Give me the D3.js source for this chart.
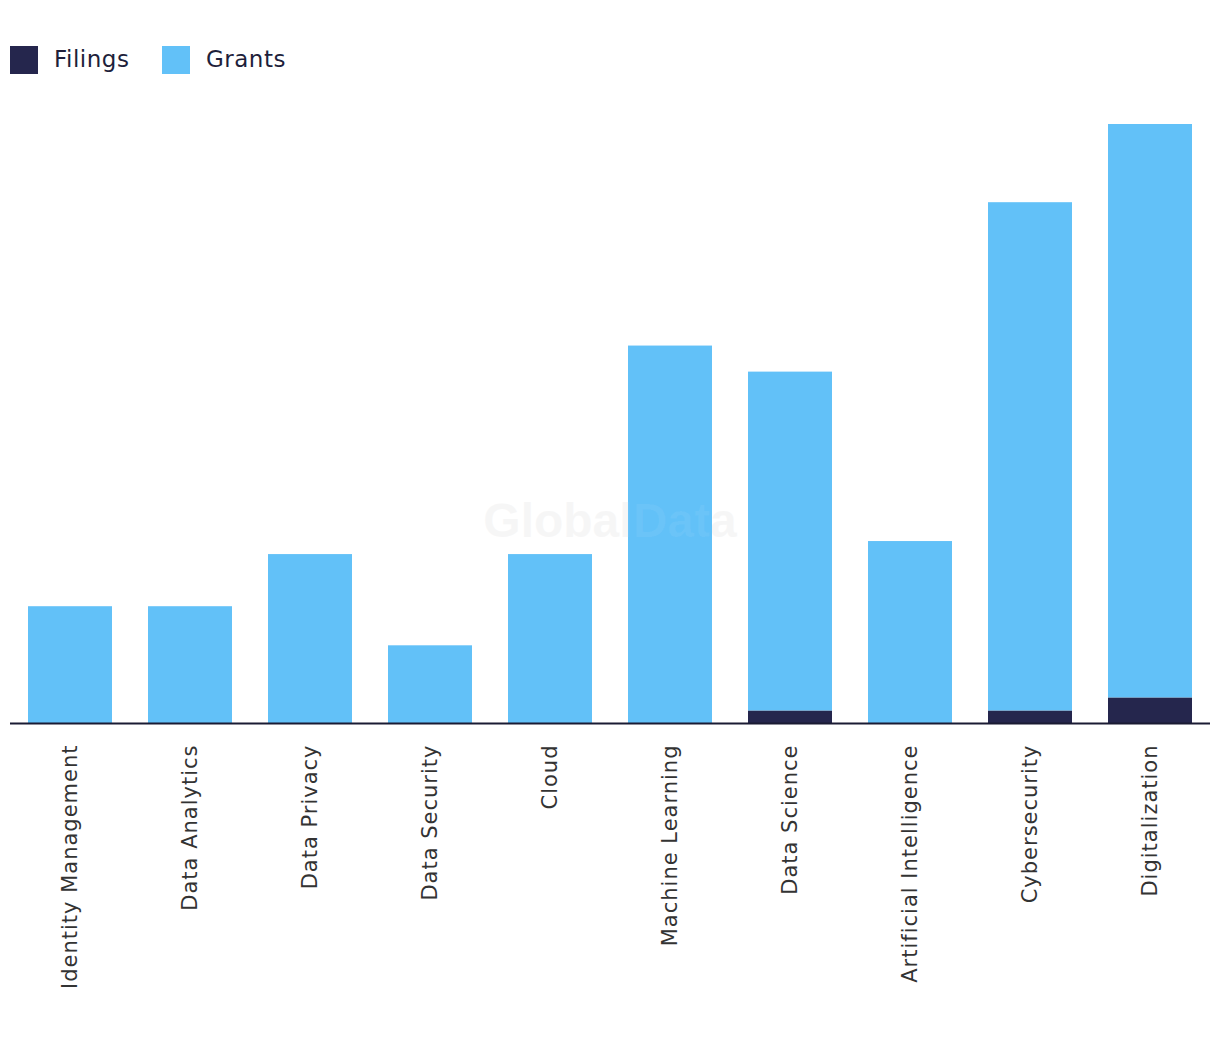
<!DOCTYPE html>
<html><head><meta charset="utf-8">
<script src="https://cdn.jsdelivr.net/npm/d3@7"></script>
<style>body{margin:0;background:#fff;} svg{display:block;font-family:"DejaVu Sans",Arial,sans-serif;}</style>
</head><body>
<svg id="c" width="1220" height="1038"></svg>
<script>
const categories = ["Identity Management","Data Analytics","Data Privacy","Data Security","Cloud","Machine Learning","Data Science","Artificial Intelligence","Cybersecurity","Digitalization"];
const filings = [0,0,0,0,0,0,1,0,1,2];
const grants = [9,9,13,6,13,29,26,14,39,44];
const seriesNames = ["Filings","Grants"];
const colors = ["#25264d","#62c1f8"];

const svg = d3.select("#c");
const left = 10, right = 1210, baseY = 723.5, topY = 124;
const x = d3.scaleBand().domain(categories).range([left,right]).paddingInner(0.3).paddingOuter(0.15);
const y = d3.scaleLinear().domain([0,46]).range([baseY, topY]);

// watermark
svg.append("text").attr("x",610).attr("y",537).attr("text-anchor","middle")
  .attr("font-family","Liberation Sans, Arial, sans-serif")
  .attr("font-size",48).attr("font-weight","bold").attr("fill","#f1f1f1").attr("fill-opacity",0.6)
  .text("GlobalData");

const data = categories.map((c,i)=>({cat:c, Filings:filings[i], Grants:grants[i]}));
const stack = d3.stack().keys(seriesNames)(data);
svg.append("g").selectAll("g").data(stack).join("g").attr("fill",(d,i)=>colors[i])
  .selectAll("rect").data(d=>d).join("rect")
  .attr("x",d=>x(d.data.cat)).attr("width",x.bandwidth())
  .attr("y",d=>y(d[1])).attr("height",d=>y(d[0])-y(d[1]));

svg.append("text").attr("x",610).attr("y",537).attr("text-anchor","middle")
  .attr("font-family","Liberation Sans, Arial, sans-serif")
  .attr("font-size",48).attr("font-weight","bold").attr("fill","#ffffff").attr("fill-opacity",0.06)
  .text("GlobalData");

// axis
const ax = svg.append("g").attr("transform",`translate(0,${baseY})`)
  .call(d3.axisBottom(x).tickSize(0).tickPadding(0));
ax.select(".domain").attr("stroke","#1a1b33").attr("stroke-width",2).attr("d",`M${left},0H${right}`);
ax.selectAll("text").attr("font-size",21).attr("fill","#333")
  .attr("font-family","DejaVu Sans, Arial, sans-serif")
  .attr("letter-spacing","1px")
  .attr("transform","rotate(-90)").attr("text-anchor","end")
  .attr("x",-21).attr("y",0).attr("dy","0.35em");

// legend
const lg = svg.append("g");
const lx = [10,162];
seriesNames.forEach((s,i)=>{
  lg.append("rect").attr("x",lx[i]).attr("y",46).attr("width",28).attr("height",28).attr("fill",colors[i]);
  lg.append("text").attr("x",lx[i]+44).attr("y",67).attr("font-size",23).attr("letter-spacing","0.5px").attr("fill","#1e1f3b").text(s);
});
</script>
</body></html>
